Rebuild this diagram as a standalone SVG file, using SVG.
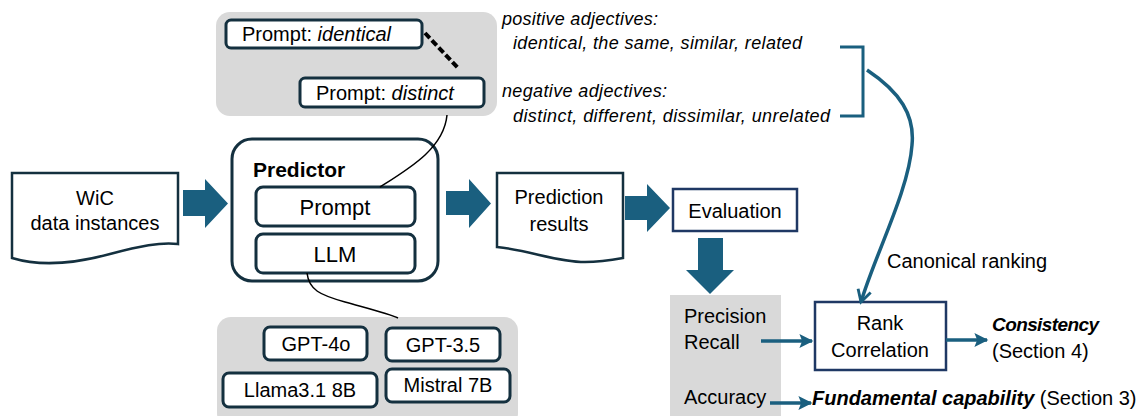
<svg xmlns="http://www.w3.org/2000/svg" width="1137" height="416" viewBox="0 0 1137 416">
<style>
text{font-family:"Liberation Sans",Arial,sans-serif;fill:#000}
.gray{fill:#d9d9d9}
.box{fill:#fff;stroke:#14303f;stroke-width:3}
.nbox{fill:#fff;stroke:#1f3864;stroke-width:2.5}
.doc{fill:#fff;stroke:#14303f;stroke-width:2.5}
.blk{fill:#1a5f7f}
.t20{font-size:20px}
.t19{font-size:19px}
.it{font-style:italic;font-size:18px}
.c{text-anchor:middle}
.teal{fill:none;stroke:#1a5f7f;stroke-width:3.5}
.thin{fill:none;stroke:#000;stroke-width:1.5}
</style>
<defs>
<marker id="tri" viewBox="0 0 10 10" refX="9" refY="5" markerWidth="4.6" markerHeight="4" orient="auto" markerUnits="strokeWidth">
<path d="M0,0 L10,5 L0,10 L2,5 Z" fill="#1a5f7f"/>
</marker>
<marker id="vee" viewBox="0 0 12 12" refX="10" refY="6" markerWidth="4.5" markerHeight="4.5" orient="auto" markerUnits="strokeWidth">
<path d="M1,1 L10,6 L1,11" fill="none" stroke="#1a5f7f" stroke-width="2.2"/>
</marker>
</defs>

<g id="prompt-variants">
<rect class="gray" x="216" y="12" width="281" height="104" rx="14"/>
<rect class="box" x="226" y="20" width="196" height="28" rx="5" stroke-width="2.5"/>
<text class="t20" x="242" y="41">Prompt: <tspan font-style="italic">identical</tspan></text>
<rect class="box" x="300" y="78" width="184" height="29" rx="5" stroke-width="2.5"/>
<text class="t20" x="316" y="100">Prompt: <tspan font-style="italic">distinct</tspan></text>
<line x1="425" y1="33" x2="458" y2="68" stroke="#000" stroke-width="4" stroke-dasharray="7,3"/>
</g>

<g id="adjectives">
<text class="it" x="502" y="25" textLength="156">positive adjectives:</text>
<text class="it" x="513" y="49" textLength="289">identical, the same, similar, related</text>
<text class="it" x="502" y="97" textLength="165">negative adjectives:</text>
<text class="it" x="513" y="122" textLength="317">distinct, different, dissimilar, unrelated</text>
<path d="M840,47 H863 V116 H840" fill="none" stroke="#1a5f7f" stroke-width="3"/>
</g>

<g id="wic">
<path class="doc" d="M12,173 H178 V244 C160,242 140,246 110,254 C80,262 45,268 12,258 Z"/>
<text class="t20 c" x="95" y="205">WiC</text>
<text class="t20 c" x="95" y="230">data instances</text>
</g>

<g id="predictor">
<rect class="box" x="232" y="139" width="206" height="142" rx="20"/>
<text x="253" y="177" font-size="21" font-weight="bold">Predictor</text>
<rect class="box" x="256" y="187" width="159" height="39" rx="7"/>
<text class="c" x="335" y="215" font-size="22">Prompt</text>
<rect class="box" x="256" y="234" width="159" height="39" rx="7"/>
<text class="c" x="335" y="262" font-size="22">LLM</text>
</g>

<g id="models">
<rect class="gray" x="217" y="317" width="301" height="110" rx="14"/>
<rect class="box" x="264" y="327" width="103" height="33" rx="6" stroke-width="2.5"/>
<text class="t20 c" x="316" y="351">GPT-4o</text>
<rect class="box" x="386" y="328" width="114" height="33" rx="6" stroke-width="2.5"/>
<text class="t20 c" x="443" y="352">GPT-3.5</text>
<rect class="box" x="223" y="373" width="154" height="34" rx="6" stroke-width="2.5"/>
<text class="t20 c" x="300" y="397">Llama3.1 8B</text>
<rect class="box" x="386" y="369" width="124" height="33" rx="6" stroke-width="2.5"/>
<text class="t20 c" x="448" y="392">Mistral 7B</text>
</g>

<g id="prediction-results">
<path class="doc" d="M497,173 H623 V258 C612,260 600,262 585,262 C555,262 530,250 497,247 Z"/>
<text class="t20 c" x="559" y="204">Prediction</text>
<text class="t20 c" x="559" y="231">results</text>
</g>

<g id="evaluation">
<rect class="nbox" x="673" y="189" width="124" height="42"/>
<text class="t20 c" x="735" y="218">Evaluation</text>
</g>

<g id="metrics">
<rect class="gray" x="670" y="295" width="111" height="125"/>
<text class="t20" x="684" y="323">Precision</text>
<text class="t20" x="684" y="349">Recall</text>
<text class="t20" x="684" y="404">Accuracy</text>
</g>

<g id="rank-correlation">
<rect class="nbox" x="815" y="302" width="131" height="68"/>
<text class="t20 c" x="880" y="330">Rank</text>
<text class="t20 c" x="880" y="357">Correlation</text>
</g>

<g id="outcomes">
<text class="t20" x="887" y="268">Canonical ranking</text>
<text x="992" y="331" font-size="19" font-weight="bold" font-style="italic" textLength="107">Consistency</text>
<text class="t20" x="992" y="358">(Section 4)</text>
<text class="t20" x="812" y="405"><tspan font-weight="bold" font-style="italic">Fundamental capability</tspan> (Section 3)</text>
</g>

<g id="connectors">
<path class="blk" d="M183,190 H205 V179 L228,203.5 L205,228 V216 H183 Z"/>
<path class="blk" d="M446,191 H469 V179 L491,203.5 L469,228 V215 H446 Z"/>
<path class="blk" d="M625,196 H647 V184 L670,208 L647,232 V220 H625 Z"/>
<path class="blk" d="M698,238 H723 V270 H734 L710,294 L686,270 H698 Z"/>
<path class="thin" d="M380,187 C410,168 444,148 447,115"/>
<path class="thin" d="M307,273 C309,290 320,295 345,302 C370,309 390,314 398,318"/>
<path class="teal" d="M867,70 C900,92 915,115 912,145 C909,190 875,255 861,302" marker-end="url(#vee)"/>
<line class="teal" x1="761" y1="341" x2="812" y2="341" marker-end="url(#tri)"/>
<line class="teal" x1="946" y1="340" x2="987" y2="340" marker-end="url(#tri)"/>
<line class="teal" x1="770" y1="403" x2="811" y2="403" marker-end="url(#tri)"/>
</g>
</svg>
